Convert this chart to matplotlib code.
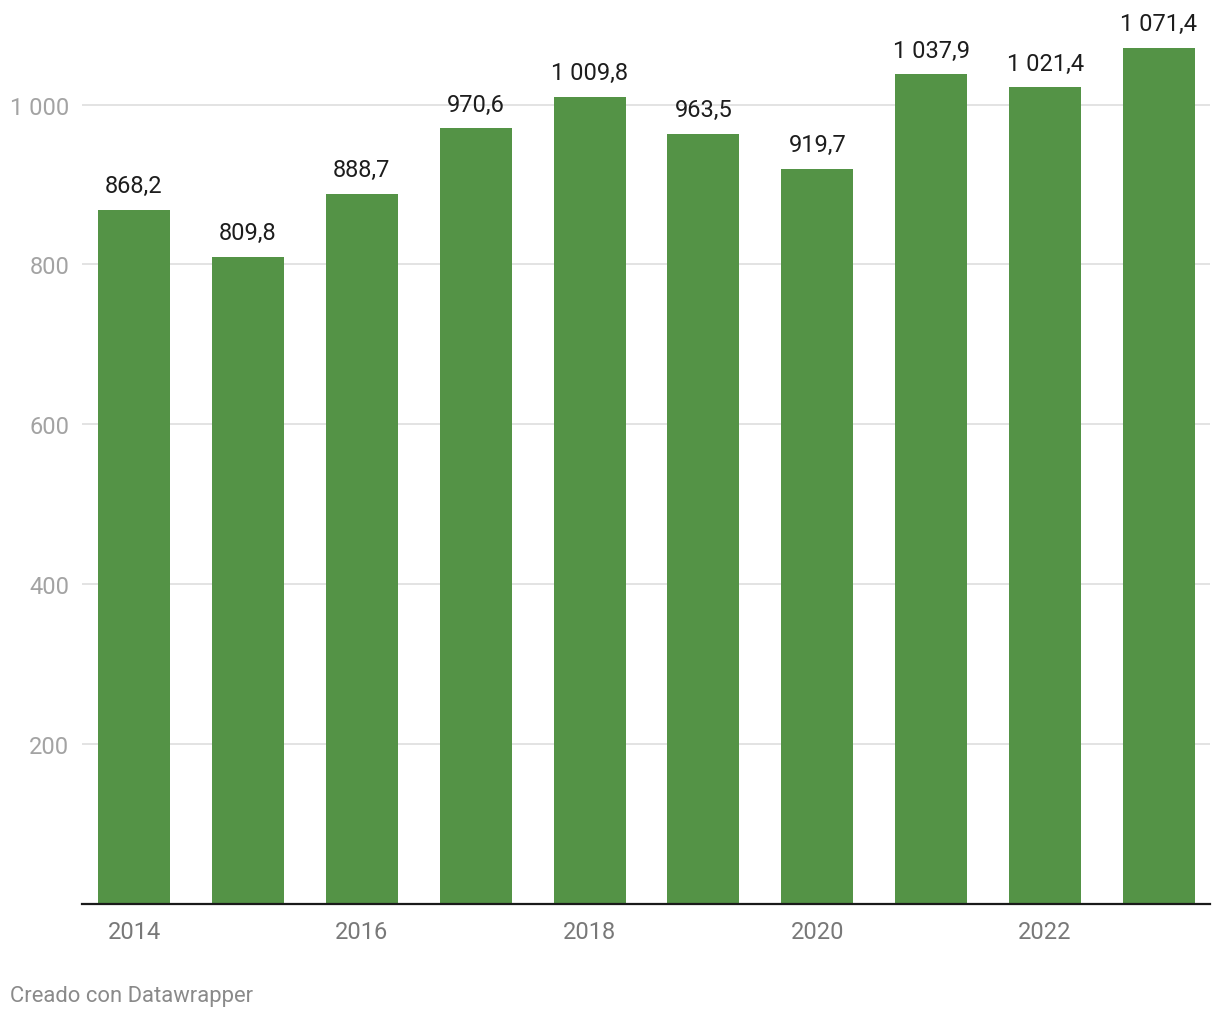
import numpy as np
import matplotlib.pyplot as plt

plt.rcParams['font.family'] = ['Roboto', 'DejaVu Sans']

# data
years = [2014, 2015, 2016, 2017, 2018, 2019, 2020, 2021, 2022, 2023]
values = [868.2, 809.8, 888.7, 970.6, 1009.8, 963.5, 919.7, 1037.9, 1021.4, 1071.4]
ytick_vals = [200, 400, 600, 800, 1000]
xtick_years = [2014, 2016, 2018, 2020, 2022]


def fmt_es(v, dec=1):
    s = "{:,.{d}f}".format(v, d=dec)
    return s.replace(",", " ").replace(".", ",")


fig = plt.figure(figsize=(12.2, 10.2), dpi=100)
ax = fig.add_axes([82 / 1220, 115.5 / 1020, 1128 / 1220, 880 / 1020])

x = np.arange(len(years))
ax.bar(x, values, width=0.632, color="#549346", zorder=2)

for xi, v in zip(x, values):
    ax.annotate(fmt_es(v), (xi, v), xytext=(0, 9), textcoords="offset points",
                ha="center", va="bottom", fontsize=17, color="#1d1d1d")

ax.set_xlim(-0.457, 9.448)
ax.set_ylim(0, 1101.5)

ax.set_yticks(ytick_vals)
ax.set_yticklabels([fmt_es(v, 0) for v in ytick_vals])
ax.yaxis.grid(True, color="#e3e3e3", linewidth=1.4, zorder=0)
ax.tick_params(axis="y", length=0, pad=9, labelsize=17, labelcolor="#a3a3a3")

ax.set_xticks([years.index(y) for y in xtick_years])
ax.set_xticklabels([str(y) for y in xtick_years])
ax.tick_params(axis="x", length=0, pad=12, labelsize=17, labelcolor="#787878")

for side in ["top", "right", "left"]:
    ax.spines[side].set_visible(False)
ax.spines["bottom"].set_color("#1a1a1a")
ax.spines["bottom"].set_linewidth(1.6)
ax.spines["bottom"].set_zorder(3)

fig.text(10 / 1220, 1 - 997 / 1020, "Creado con Datawrapper", fontsize=15.8,
         color="#8a8a8a", ha="left", va="center")

fig.savefig("out.png", dpi=100)
